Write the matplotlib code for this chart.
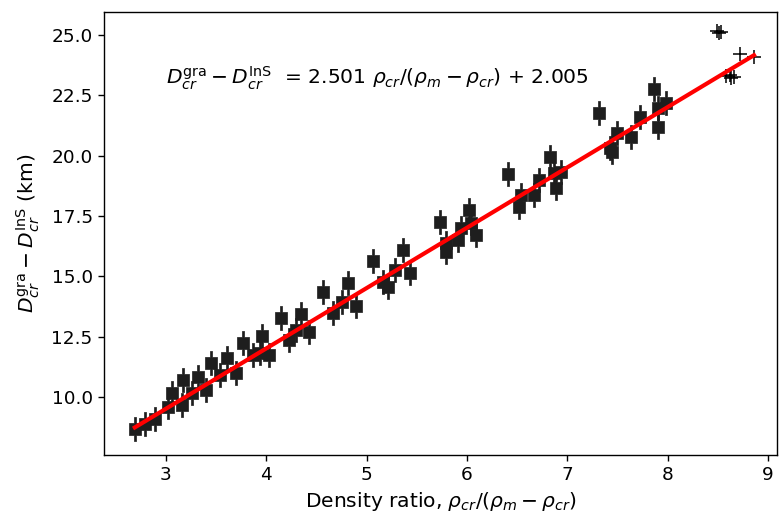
import matplotlib
matplotlib.use("Agg")
import matplotlib.pyplot as plt
import numpy as np
from matplotlib.path import Path

# Dense clusters (cluster centres)
cluster_x = [2.69, 2.79, 2.89, 3.02, 3.06, 3.16, 3.17, 3.26, 3.32, 3.40, 3.45, 3.54,
             3.61, 3.70, 3.77, 3.87, 3.94, 3.96, 4.03, 4.15, 4.23, 4.30, 4.35, 4.43,
             4.57, 4.67, 4.75, 4.81, 4.89, 5.06, 5.16, 5.21, 5.28, 5.36, 5.43,
             5.73, 5.79, 5.79, 5.91, 5.94, 6.02, 6.04, 6.09, 6.41, 6.52, 6.54, 6.67,
             6.72, 6.83, 6.87, 6.89, 6.94, 7.32, 7.43, 7.45, 7.50, 7.63, 7.72, 7.86,
             7.90, 7.90, 7.98]
cluster_y = [8.66, 8.88, 9.07, 9.57, 10.18, 9.67, 10.70, 10.15, 10.84, 10.29, 11.42, 10.91,
             11.60, 10.98, 12.25, 11.74, 11.81, 12.53, 11.74, 13.26, 12.36, 12.77, 13.45, 12.70,
             14.36, 13.47, 13.95, 14.71, 13.77, 15.65, 14.78, 14.57, 15.26, 16.09, 15.12,
             17.26, 16.37, 16.02, 16.50, 16.99, 17.75, 17.20, 16.71, 19.24, 17.89, 18.37, 18.37,
             18.99, 19.96, 19.27, 18.65, 19.33, 21.76, 20.30, 20.16, 20.93, 20.79, 21.61, 22.75,
             21.96, 21.20, 22.17]

# Sparse points drawn as single crosses
sparse_x = [8.49, 8.51, 8.53, 8.58, 8.62, 8.63, 8.66, 8.72, 8.86]
sparse_y = [25.15, 25.10, 25.13, 23.30, 23.35, 23.22, 23.28, 24.21, 24.10]

# Fit
slope = 2.501
intercept = 2.005

plt.rcParams['font.family'] = ['DejaVu Sans']
fig = plt.figure(figsize=(7.79, 5.18), dpi=100)
ax = fig.add_axes([0.1335, 0.1216, 0.864, 0.855])

# custom blob marker: square with vertical spike
verts = [(-0.25, -0.25), (-0.04, -0.25), (-0.04, -0.5), (0.04, -0.5), (0.04, -0.25),
         (0.25, -0.25), (0.25, 0.25), (0.04, 0.25), (0.04, 0.5), (-0.04, 0.5),
         (-0.04, 0.25), (-0.25, 0.25), (-0.25, -0.25)]
codes = [Path.MOVETO] + [Path.LINETO] * (len(verts) - 2) + [Path.CLOSEPOLY]
blob = Path(verts, codes)

ax.plot(cluster_x, cluster_y, linestyle='none', marker=blob, markersize=17,
        markerfacecolor='#1e1e1e', markeredgecolor='#1e1e1e', markeredgewidth=0.5)
ax.plot(sparse_x, sparse_y, linestyle='none', marker='+', markersize=10,
        color='black', markeredgewidth=1.1)

xs = np.array([min(cluster_x), max(sparse_x)])
ax.plot(xs, slope * xs + intercept, color='red', linewidth=3)

ax.text(3.0, 23.2, r'$D_{cr}^{\rm gra} - D_{cr}^{\rm InS}$  = 2.501 $\rho_{cr}/(\rho_m - \rho_{cr})$ + 2.005',
        fontsize=14.6, va='center', ha='left')

ax.set_xlim(2.383, 9.09)
ax.set_ylim(7.59, 25.95)
ax.set_xticks([3, 4, 5, 6, 7, 8, 9])
ax.set_yticks([10.0, 12.5, 15.0, 17.5, 20.0, 22.5, 25.0])
ax.set_yticklabels(['10.0', '12.5', '15.0', '17.5', '20.0', '22.5', '25.0'])
ax.tick_params(labelsize=13.3, length=4.6, width=1.0)
for s in ax.spines.values():
    s.set_linewidth(1.0)
ax.set_xlabel(r'Density ratio, $\rho_{cr}/(\rho_m - \rho_{cr})$', fontsize=14.6)
ax.set_ylabel(r'$D_{cr}^{\rm gra} - D_{cr}^{\rm InS}$ (km)', fontsize=14.6, labelpad=7)

fig.savefig('out.png', dpi=100)
